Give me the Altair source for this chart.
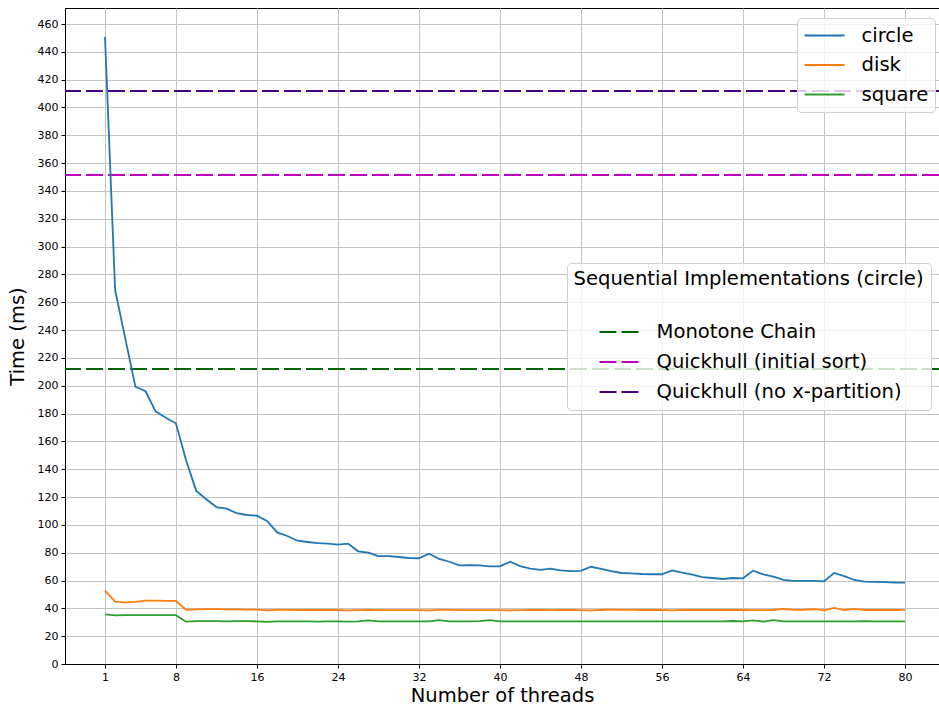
import altair as alt
import pandas as pd

threads = list(range(1, 81))

circle = [450.6, 268.8, 234.0, 199.3, 196.0, 181.6, 177.0, 173.0, 146.6, 124.6,
          118.4, 112.8, 111.6, 108.5, 107.1, 106.6, 102.8, 94.6, 92.0, 88.6,
          87.7, 86.9, 86.5, 85.8, 86.5, 81.0, 80.0, 77.6, 77.6, 76.9,
          76.2, 76.0, 79.3, 75.5, 73.5, 70.9, 71.1, 70.9, 70.2, 70.2,
          73.5, 70.4, 68.5, 67.6, 68.5, 67.3, 66.8, 67.0, 69.9, 68.3,
          66.7, 65.4, 65.2, 64.7, 64.5, 64.5, 67.3, 65.6, 64.2, 62.5,
          61.8, 61.1, 61.8, 61.6, 67.1, 64.5, 62.8, 60.4, 59.7, 59.7,
          59.7, 59.4, 65.4, 63.2, 60.4, 59.2, 59.0, 58.8, 58.5, 58.5]

disk = [52.7, 44.8, 44.3, 44.6, 45.5, 45.6, 45.4, 45.3, 39.0, 39.3,
        39.4, 39.4, 39.3, 39.2, 39.1, 39.1, 38.5, 38.9, 38.9, 38.8,
        38.8, 38.8, 38.8, 38.8, 38.5, 38.7, 38.8, 38.7, 38.7, 38.7,
        38.7, 38.7, 38.5, 38.9, 38.9, 38.7, 38.7, 38.7, 38.7, 38.7,
        38.6, 38.7, 38.8, 38.8, 38.7, 38.9, 38.8, 38.7, 38.6, 38.8,
        39.1, 38.9, 38.9, 38.8, 38.8, 38.8, 38.6, 38.8, 38.9, 38.8,
        38.8, 38.8, 38.8, 38.8, 38.7, 38.7, 38.8, 39.6, 38.9, 39.0,
        39.5, 38.6, 40.3, 38.8, 39.6, 38.8, 38.8, 38.8, 38.8, 38.9]

square = [35.7, 35.0, 35.2, 35.2, 35.1, 35.1, 35.1, 35.1, 30.4, 30.8,
          30.8, 30.8, 30.7, 30.8, 30.8, 30.7, 30.3, 30.6, 30.6, 30.6,
          30.6, 30.5, 30.6, 30.6, 30.5, 30.7, 31.3, 30.6, 30.6, 30.6,
          30.6, 30.6, 30.6, 31.6, 30.7, 30.6, 30.6, 30.8, 31.5, 30.6,
          30.6, 30.6, 30.6, 30.6, 30.6, 30.7, 30.6, 30.6, 30.6, 30.6,
          30.6, 30.6, 30.6, 30.6, 30.7, 30.7, 30.6, 30.6, 30.7, 30.7,
          30.7, 30.7, 30.9, 30.7, 31.3, 30.4, 31.5, 30.7, 30.7, 30.7,
          30.6, 30.7, 30.6, 30.6, 30.6, 30.8, 30.6, 30.7, 30.7, 30.7]

series_names = ["circle", "disk", "square"]
series_colors = ["#1f77b4", "#ff7f0e", "#2ca02c"]

seq_names = ["Monotone Chain", "Quickhull (initial sort)", "Quickhull (no x-partition)"]
seq_values = [212.0, 351.5, 411.8]
seq_colors = ["#006400", "#bf00bf", "#4b0082"]

x_ticks = [1, 8, 16, 24, 32, 40, 48, 56, 64, 72, 80]
y_ticks = list(range(0, 461, 20))

rows = []
for name, vals in zip(series_names, [circle, disk, square]):
    for t, v in zip(threads, vals):
        rows.append({"threads": t, "time": v, "series": name})
df = pd.DataFrame(rows)
seq_df = pd.DataFrame({"impl": seq_names, "time": seq_values})

FONT = "DejaVu Sans"
x_scale = alt.Scale(domain=[-2.95, 83.36], nice=False, zero=False)
y_scale = alt.Scale(domain=[0, 471.5], nice=False, zero=True)
y_axis = alt.Axis(values=y_ticks, title="Time (ms)", labelOverlap=False)

lines = alt.Chart(df).mark_line(strokeWidth=1.8, clip=True).encode(
    x=alt.X("threads:Q", scale=x_scale,
            axis=alt.Axis(values=x_ticks, title="Number of threads",
                          labelOverlap=False)),
    y=alt.Y("time:Q", scale=y_scale, axis=y_axis),
    color=alt.Color("series:N",
                    scale=alt.Scale(domain=series_names, range=series_colors),
                    legend=alt.Legend(orient="none", legendX=732, legendY=10,
                                      title=None, symbolType="stroke",
                                      symbolSize=1600, symbolStrokeWidth=2,
                                      clipHeight=22, labelOffset=16,
                                      rowPadding=7.5, labelLimit=0,
                                      padding=6.5)),
)

rules = alt.Chart(seq_df).mark_rule(strokeWidth=2, strokeDash=[17, 5]).encode(
    y=alt.Y("time:Q", scale=y_scale, axis=y_axis),
    stroke=alt.Stroke("impl:N",
                      scale=alt.Scale(domain=seq_names, range=seq_colors),
                      legend=alt.Legend(orient="none", legendX=502, legendY=255,
                                        title="Sequential Implementations (circle)",
                                        titlePadding=32, symbolType="stroke",
                                        symbolSize=1600, symbolStrokeWidth=2,
                                        symbolDash=[17, 5], symbolOffset=25,
                                        clipHeight=22, labelOffset=16,
                                        rowPadding=8, labelLimit=0,
                                        titleLimit=0, padding=6.5)),
)

chart = alt.layer(rules, lines).properties(
    width=874, height=656,
    autosize=alt.AutoSizeParams(type="none"),
    padding={"left": 65, "top": 8, "right": 0, "bottom": 42},
).configure_view(
    stroke="black", strokeWidth=1
).configure_axis(
    labelFont=FONT, titleFont=FONT, labelFontSize=11, titleFontSize=19.5,
    titleFontWeight="normal", labelColor="black", titleColor="black",
    gridColor="#c4c4c4", gridWidth=1, domainColor="black", tickColor="black",
    tickSize=4, labelPadding=3, labelOverlap=False,
).configure_axisX(
    titlePadding=4,
).configure_axisY(
    titlePadding=10,
).configure_legend(
    labelFont=FONT, titleFont=FONT, labelFontSize=19.6, titleFontSize=19.6,
    titleFontWeight="normal", labelColor="black", titleColor="black",
    fillColor="rgba(255,255,255,0.8)", strokeColor="#d0d0d0", cornerRadius=4,
)

chart.save("out.html", embed_options={"renderer": "svg", "actions": False})
